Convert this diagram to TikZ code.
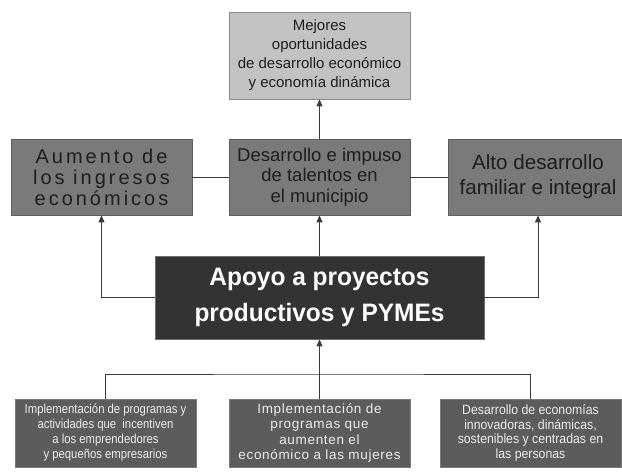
\documentclass[tikz,border=0pt]{standalone}
\usepackage{fontspec}
\setmainfont{Liberation Sans}
\newfontfamily\plainf{Liberation Sans}
\newfontfamily\boldf[FakeStretch=0.97]{Liberation Sans Bold}
\newfontfamily\widef[LetterSpace=15]{Liberation Sans}
\newfontfamily\blf[FakeStretch=0.87]{Liberation Sans}
\newfontfamily\bmf[LetterSpace=5]{Liberation Sans}
\newfontfamily\brf[FakeStretch=0.91]{Liberation Sans}
\usetikzlibrary{arrows.meta}
\definecolor{topfill}{HTML}{C2C2C2}
\definecolor{topdraw}{HTML}{8C8C8C}
\definecolor{midfill}{HTML}{7A7A7A}
\definecolor{middraw}{HTML}{5E5E5E}
\definecolor{cenfill}{HTML}{333333}
\definecolor{cendraw}{HTML}{6E6E6E}
\definecolor{botfill}{HTML}{5C5C5C}
\definecolor{botdraw}{HTML}{7A7A7A}
\definecolor{linec}{HTML}{3A3A3A}
\definecolor{darktext}{HTML}{1E1E1E}
\definecolor{lighttext}{HTML}{EDEDED}
\tikzset{
  box/.style={rectangle, align=center, inner sep=0pt, line width=0.8pt},
  topbox/.style={box, fill=topfill, draw=topdraw, text=darktext, minimum width=181pt, minimum height=87pt},
  midbox/.style={box, fill=midfill, draw=middraw, text=darktext, minimum height=76pt},
  cenbox/.style={box, fill=cenfill, draw=cendraw, text=white, minimum width=329pt, minimum height=83pt},
  botbox/.style={box, fill=botfill, draw=botdraw, text=lighttext, minimum width=181pt, minimum height=68pt},
  conn/.style={draw=linec, line width=1pt},
  arr/.style={conn, -{Triangle[width=6pt,length=7pt]}}
}
\begin{document}
\begin{tikzpicture}[x=1pt,y=-1pt]
\useasboundingbox (0,0) rectangle (622,475);
\fill[white] (0,0) rectangle (622,475);
% top
\node[topbox, font={\plainf\fontsize{15}{19}\selectfont}] (top) at (319.5,55.5) {Mejores\\oportunidades\\de desarrollo económico\\y economía dinámica};
% middle row
\node[midbox, minimum width=181pt, font={\widef\fontsize{20}{21}\selectfont}] (left) at (101.5,177) {Aumento de\\los ingresos\\económicos};
\node[midbox, minimum width=181pt, font={\plainf\fontsize{18.5}{20.5}\selectfont}] (mid) at (319.5,177) {Desarrollo e impuso\\de talentos en\\el municipio};
\node[midbox, minimum width=180pt, font={\plainf\fontsize{20.6}{25}\selectfont}] (right) at (538,177) {Alto desarrollo\\familiar e integral};
% central
\node[cenbox, font={\boldf\fontsize{25.2}{36}\selectfont}] (cen) at (319.5,297.5) {Apoyo a proyectos\\productivos y PYMEs};
% bottom row
\node[botbox, font={\blf\fontsize{13}{15}\selectfont}] (bl) at (105.5,433) {Implementación de programas y\\actividades que\ \ incentiven\\a los emprendedores\\y pequeños empresarios};
\node[botbox, font={\bmf\fontsize{13.5}{15.5}\selectfont}] (bm) at (319.5,433) {Implementación de\\programas que\\aumenten el\\económico a las mujeres};
\node[botbox, font={\brf\fontsize{13.5}{14.5}\selectfont}] (br) at (530.5,433) {Desarrollo de economías\\innovadoras, dinámicas,\\sostenibles y centradas en\\las personas};
% connectors
\draw[arr] (mid.north) -- (top.south);
\draw[conn] (left.east) -- (mid.west);
\draw[conn] (mid.east) -- (right.west);
\draw[arr] (cen.north) -- (mid.south);
\draw[arr] (cen.west) -| (left.south);
\draw[arr] (cen.east) -| (right.south);
\coordinate (j) at (319.5,374);
\draw[conn] (bl.north) |- (j) -| (br.north);
\draw[arr] (bm.north) -- (cen.south);
\end{tikzpicture}
\end{document}
